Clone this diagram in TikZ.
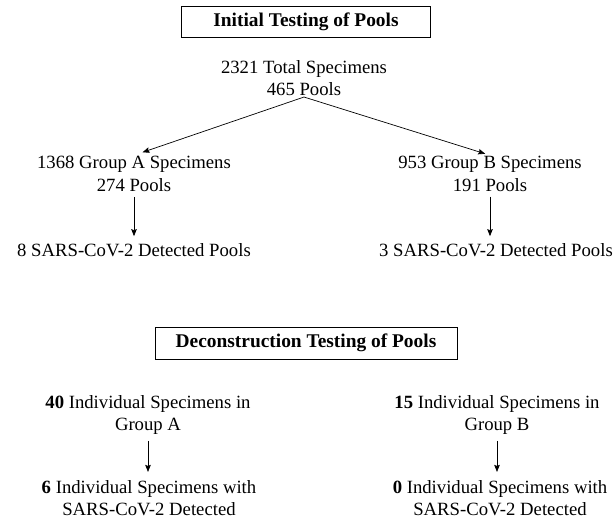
\documentclass[tikz,border=0pt]{standalone}
\usepackage{fontspec}
\setmainfont{Liberation Serif}
\usetikzlibrary{arrows.meta}

\tikzset{
	txt/.style={align=center, inner sep=1pt, font=\fontsize{18.7}{22.5}\selectfont},
	headbox/.style={draw, line width=0.7pt, minimum width=249pt, minimum height=31pt, inner sep=2pt, font=\fontsize{19.4}{22}\selectfont\bfseries},
	arr/.style={-{Stealth[length=7pt, width=5.5pt, inset=1pt]}, line width=0.7pt},
}

\begin{document}
\begin{tikzpicture}[x=1pt, y=1pt]
			%%%%% START %%%%%
			\useasboundingbox (0, 0) rectangle (615, -525);
			
			\node[headbox] (init) at (306, -22) {Initial Testing of Pools};
			
			\node[txt] (tot) at (304, -78) {2321 Total Specimens\\465 Pools};
			
			\node[txt] (ga) at (134, -174) {1368 Group A Specimens\\274 Pools};
			\node[txt] (gb) at (490, -174) {953 Group B Specimens\\191 Pools};
			
			\node[txt] (pa) at (134, -250) {8 SARS-CoV-2 Detected Pools};
			\node[txt] (pb) at (496, -250) {3 SARS-CoV-2 Detected Pools};
			
			\draw[arr, shorten >=9pt] (tot.south) -- (ga.north);
			\draw[arr, shorten >=5pt] (tot.south) -- (gb.north);
			\draw[arr, shorten <=4pt, shorten >=6pt] (ga.south) -- (pa.north);
			\draw[arr, shorten <=4pt, shorten >=6pt] (gb.south) -- (gb.south |- pb.north);
			
			\node[headbox, minimum width=302pt, minimum height=32pt] (dec) at (306, -343) {Deconstruction Testing of Pools};
			
			\node[txt] (ia) at (148, -415) {\textbf{40} Individual Specimens in\\Group A};
			\node[txt] (ib) at (497, -415) {\textbf{15} Individual Specimens in\\Group B};
			
			\node[txt] (da) at (149, -498) {\textbf{6} Individual Specimens with\\SARS-CoV-2 Detected};
			\node[txt] (db) at (500, -498) {\textbf{0} Individual Specimens with\\SARS-CoV-2 Detected};
			
			\draw[arr, shorten <=5pt, shorten >=7pt] (ia.south) -- (ia.south |- da.north);
			\draw[arr, shorten <=5pt, shorten >=7pt] (ib.south) -- (ib.south |- db.north);
			%%%%% END %%%%%
\end{tikzpicture}
\end{document}
